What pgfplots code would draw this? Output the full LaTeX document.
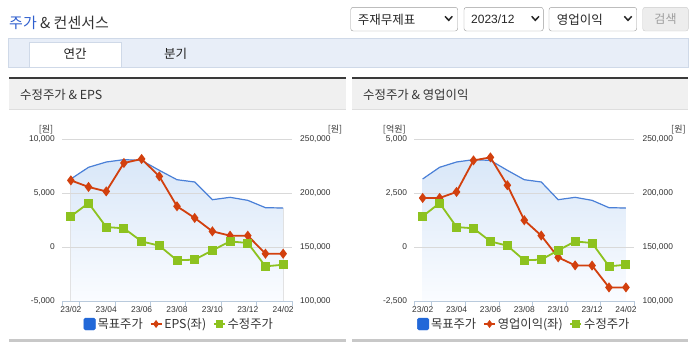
\documentclass[border=0pt]{standalone}
\usepackage{fontspec}
\setmainfont{Liberation Sans}
\newfontfamily\kr{Noto Sans CJK KR}
\usepackage{pgfplots}
\usepackage{pgfplotstable}
\pgfplotsset{compat=1.18}
\usepgfplotslibrary{fillbetween}

\definecolor{tgtblue}{HTML}{4A80D8}
\definecolor{fillblue}{HTML}{D9E7F8}
\definecolor{fillbottom}{HTML}{FAFCFF}
\definecolor{epsred}{HTML}{D2400E}
\definecolor{prgreen}{HTML}{8DC21F}
\definecolor{legblue}{HTML}{2268D8}
\definecolor{gridgray}{HTML}{D9D9D9}
\definecolor{axisblue}{HTML}{B9CADC}
\definecolor{txt}{HTML}{333333}
\definecolor{bandblue}{HTML}{E8EEF8}
\definecolor{bandborder}{HTML}{CFD9E8}
\definecolor{titleblue}{HTML}{2F5FCE}
\definecolor{ddgray}{HTML}{9A9A9A}
\definecolor{headgray}{HTML}{F0F0F0}
\definecolor{panelline}{HTML}{3A3A3A}
\definecolor{bottomgray}{HTML}{C8C8C8}

% x: month index (0 = 23/02 ... 12 = 24/02)
\pgfplotstableread{
x target price eps op
0  213000 178400  6170  2270
1  223800 190700  5560  2270
2  228700 168500  5150  2550
3  230900 167300  7780  4010
4  230200 155200  8150  4150
5  221000 151200  6540  2860
6  212300 137700  3770  1240
7  210200 138300  2690   530
8  193800 146900  1450  -480
9  196000 155200  1050  -850
10 193200 153700  1050  -860
11 186400 132100  -620 -1870
12 186100 133600  -620 -1870
}\data

\pgfplotsset{
  base/.style={scale only axis, anchor=south west, xmin=-0.5, xmax=12.5,
    height=162pt, clip=false, scaled y ticks=false, scaled x ticks=false,
    tick label style={font=\fontsize{8.4}{9}\selectfont, text=txt, inner sep=0pt},
    /pgf/number format/assume math mode=true},
  rightscale/.style={base, ymin=100000, ymax=250000},
  gridaxis/.style={rightscale, hide x axis, axis y line*=right,
    y axis line style={draw=none}, major tick length=0pt,
    ytick={100000,150000,200000,250000},
    yticklabels={{100,000},{150,000},{200,000},{250,000}},
    yticklabel style={anchor=west, xshift=8pt},
    ymajorgrids, grid style={gridgray, line width=0.8pt}},
  leftaxis/.style={base, axis x line*=bottom, axis y line*=left,
    axis line style={-}, y axis line style={draw=none},
    x axis line style={axisblue, line width=0.8pt},
    yticklabel style={anchor=east, xshift=-7pt},
    xtick={0,2,...,12},
    xticklabels={23/02,23/04,23/06,23/08,23/10,23/12,24/02},
    xticklabel style={anchor=north, yshift=-5pt},
    major tick length=0pt, tick align=outside,
    xtick style={axisblue, line width=0.8pt},
    extra x ticks={-0.5,0.5,2.5,4.5,6.5,8.5,10.5,12.5},
    extra x tick labels={},
    extra x tick style={major tick length=4.5pt},
    legend columns=3,
    legend image code/.code={\draw[mark repeat=2,mark phase=2,#1] plot coordinates {(0pt,0pt) (5.5pt,0pt) (11pt,0pt)};},
    legend style={anchor=center, draw=none, fill=none,
      font=\kr\fontsize{12.3}{14}\selectfont, text=txt,
      column sep=0pt, /tikz/every even column/.append style={column sep=5pt}}},
  blueleg/.style={legend image code/.code={\fill[legblue, rounded corners=1.5pt] (0pt,-6pt) rectangle (11.5pt,6pt);}},
}

\begin{document}
\begin{tikzpicture}
\path (0pt,0pt) rectangle (695pt,-349pt);

\begin{scope}[x=1pt, y=-1pt]
  % title
  \node[anchor=west, inner sep=0pt, font=\kr\fontsize{15}{17}\selectfont] at (9,22.5)
    {\textcolor{titleblue}{주가} \textcolor{txt}{\& 컨센서스}};
  % dropdowns
  \draw[ddgray, fill=white, rounded corners=2.5pt] (350.7,7.3) rectangle (457.7,31);
  \node[anchor=west, inner sep=0pt, font=\kr\fontsize{12.5}{14}\selectfont, text=black!85] at (357.7,19.5) {주재무제표};
  \draw[black!85, line width=1.5pt] (445,16.3) -- (448.7,20.3) -- (452.3,16.3);
  \draw[ddgray, fill=white, rounded corners=2.5pt] (464,7.3) rectangle (543.3,31);
  \node[anchor=west, inner sep=0pt, font=\fontsize{12}{14}\selectfont, text=black!85] at (471,19.5) {2023/12};
  \draw[black!85, line width=1.5pt] (531.7,16.3) -- (535.3,20.3) -- (539,16.3);
  \draw[ddgray, fill=white, rounded corners=2.5pt] (549,7.3) rectangle (636.7,31);
  \node[anchor=west, inner sep=0pt, font=\kr\fontsize{12.5}{14}\selectfont, text=black!85] at (556.7,19.5) {영업이익};
  \draw[black!85, line width=1.5pt] (624.3,16.3) -- (628,20.3) -- (631.7,16.3);
  \draw[black!20, fill=black!7, rounded corners=2.5pt] (642.7,7.3) rectangle (688.3,31);
  \node[inner sep=0pt, font=\kr\fontsize{12}{14}\selectfont, text=black!38] at (665.5,19.5) {검색};
  % tab band
  \draw[bandborder, fill=bandblue] (8.3,37.7) rectangle (688,66.7);
  \filldraw[fill=white, draw=bandborder] (29.3,66.7) -- (29.3,42.3) -- (120.7,42.3) -- (120.7,66.7);
  \node[inner sep=0pt, font=\kr\fontsize{12.5}{14}\selectfont, text=black!88] at (75,53.5) {연간};
  \node[inner sep=0pt, font=\kr\fontsize{12.5}{14}\selectfont, text=black!88] at (175.7,53.5) {분기};
  % panel headers
  \fill[headgray] (9,78.7) rectangle (346,109);
  \draw[black!13] (9,109) -- (346,109);
  \fill[panelline] (9,76.7) rectangle (346,78.7);
  \node[anchor=west, inner sep=0pt, font=\kr\fontsize{12.4}{14}\selectfont, text=txt] at (20,95) {수정주가 \& EPS};
  \fill[headgray] (352,78.7) rectangle (688,109);
  \draw[black!13] (352,109) -- (688,109);
  \fill[panelline] (352,76.7) rectangle (688,78.7);
  \node[anchor=west, inner sep=0pt, font=\kr\fontsize{12.4}{14}\selectfont, text=txt] at (363,95) {수정주가 \& 영업이익};
  % bottom lines
  \fill[bottomgray] (9,339.3) rectangle (346,342);
  \fill[bottomgray] (352,339.3) rectangle (688,342);
  % unit labels
  \node[inner sep=0pt, font=\kr\fontsize{9}{10}\selectfont, text=txt] at (46,130) {[원]};
  \node[inner sep=0pt, font=\kr\fontsize{9}{10}\selectfont, text=txt] at (335,130) {[원]};
  \node[inner sep=0pt, font=\kr\fontsize{9}{10}\selectfont, text=txt] at (394.3,130) {[억원]};
  \node[inner sep=0pt, font=\kr\fontsize{9}{10}\selectfont, text=txt] at (678.4,130) {[원]};
\end{scope}

% ================= LEFT CHART =================
\begin{axis}[gridaxis, ymajorgrids=false, at={(62pt,-301pt)}, width=230pt]
  \addplot[draw=none, name path=tgA] table[x=x,y=target]{\data};
  \addplot[draw=none, name path=bsA] coordinates {(0,100000) (12,100000)};
  \addplot[top color=fillblue, bottom color=fillbottom, draw=none] fill between[of=tgA and bsA];
\end{axis}
\begin{axis}[gridaxis, yticklabels={}, at={(62pt,-301pt)}, width=230pt]
  \addplot[tgtblue, line width=1.2pt] table[x=x,y=target]{\data};
\end{axis}
\begin{axis}[leftaxis, at={(62pt,-301pt)}, width=230pt,
  ymin=-5000, ymax=10000, ytick={-5000,0,5000,10000},
  yticklabels={{-5,000},0,{5,000},{10,000}},
  legend style={at={(0.51,-0.142)}}]
  \addlegendimage{blueleg}
  \addlegendentry{목표주가}
  \addlegendimage{epsred, line width=1.5pt, mark=diamond*, mark size=2.8pt}
  \addlegendentry{EPS(좌)}
  \addlegendimage{prgreen, line width=1.5pt, mark=square*, mark size=3pt}
  \addlegendentry{수정주가}
  \addplot[forget plot, epsred, line width=1.8pt, mark=diamond*, mark size=3.6pt] table[x=x,y=eps]{\data};
\end{axis}
\begin{axis}[rightscale, hide x axis, hide y axis, at={(62pt,-301pt)}, width=230pt]
  \addplot[prgreen, line width=1.8pt, mark=square*, mark size=3.6pt] table[x=x,y=price]{\data};
\end{axis}

% ================= RIGHT CHART =================
\begin{axis}[gridaxis, ymajorgrids=false, at={(414.2pt,-301pt)}, width=220.2pt]
  \addplot[draw=none, name path=tgB] table[x=x,y=target]{\data};
  \addplot[draw=none, name path=bsB] coordinates {(0,100000) (12,100000)};
  \addplot[top color=fillblue, bottom color=fillbottom, draw=none] fill between[of=tgB and bsB];
\end{axis}
\begin{axis}[gridaxis, yticklabels={}, at={(414.2pt,-301pt)}, width=220.2pt]
  \addplot[tgtblue, line width=1.2pt] table[x=x,y=target]{\data};
\end{axis}
\begin{axis}[leftaxis, at={(414.2pt,-301pt)}, width=220.2pt,
  ymin=-2500, ymax=5000, ytick={-2500,0,2500,5000},
  yticklabels={{-2,500},0,{2,500},{5,000}},
  legend style={at={(0.5,-0.142)}}]
  \addlegendimage{blueleg}
  \addlegendentry{목표주가}
  \addlegendimage{epsred, line width=1.5pt, mark=diamond*, mark size=2.8pt}
  \addlegendentry{영업이익(좌)}
  \addlegendimage{prgreen, line width=1.5pt, mark=square*, mark size=3pt}
  \addlegendentry{수정주가}
  \addplot[forget plot, epsred, line width=1.8pt, mark=diamond*, mark size=3.6pt] table[x=x,y=op]{\data};
\end{axis}
\begin{axis}[rightscale, hide x axis, hide y axis, at={(414.2pt,-301pt)}, width=220.2pt]
  \addplot[prgreen, line width=1.8pt, mark=square*, mark size=3.6pt] table[x=x,y=price]{\data};
\end{axis}
\end{tikzpicture}
\end{document}
